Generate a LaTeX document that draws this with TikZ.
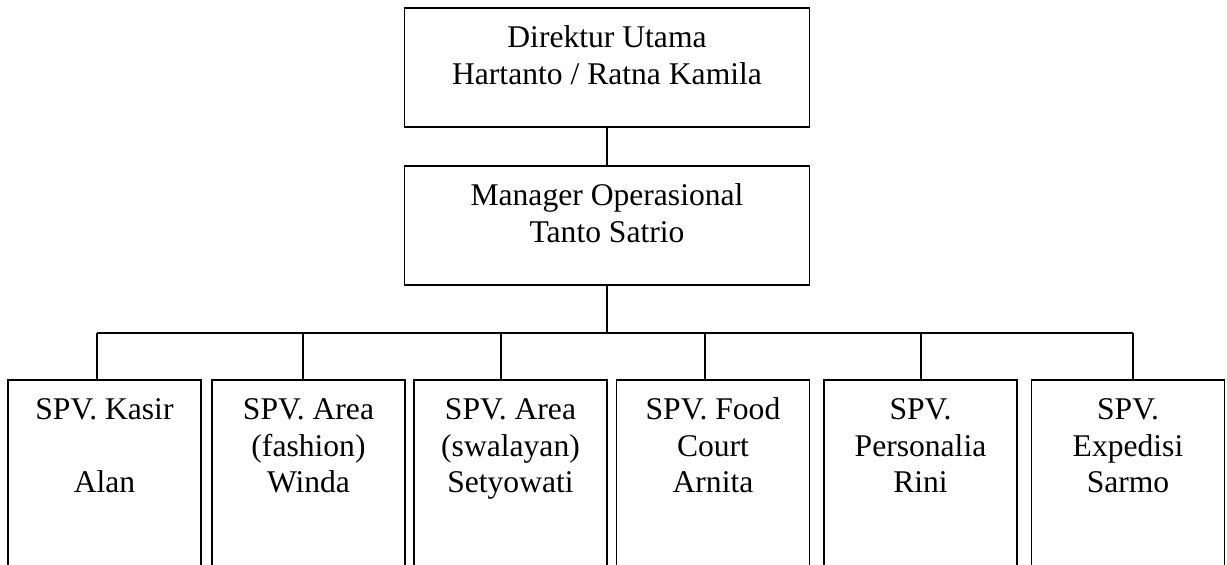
\documentclass[tikz,border=0pt]{standalone}
\usepackage{fontspec}
\setmainfont{Liberation Serif}

\begin{document}
\begin{tikzpicture}[
    x=0.5pt, y=-0.5pt,
    box/.style={draw, line width=0.9pt, align=center, anchor=north,
                inner sep=0pt,
                font=\fontsize{15.8pt}{18.2pt}\selectfont},
    headbox/.style={box, minimum width=202.5pt,
                    text height=38.2pt, text depth=21.5pt},
    spvbox/.style={box, minimum width=96.5pt,
                   text height=56.4pt, text depth=60pt},
    line/.style={line width=0.75pt}
  ]
    \useasboundingbox (0,0) rectangle (1227,564);
    \clip (0,0) rectangle (1227,564);

    \node[headbox] (dirut) at (607,7)   {Direktur Utama\\Hartanto / Ratna Kamila};
    \node[headbox] (manop) at (607,165) {Manager Operasional\\Tanto Satrio};

    \node[spvbox] (kasir)      at (104.5,379) {SPV. Kasir\\~\\Alan};
    \node[spvbox] (fashion)    at (308.5,379) {SPV. Area\\(fashion)\\Winda};
    \node[spvbox] (swalayan)   at (510.5,379) {SPV. Area\\(swalayan)\\Setyowati};
    \node[spvbox] (food)       at (713,379)   {SPV. Food\\Court\\Arnita};
    \node[spvbox] (personalia) at (920.5,379) {SPV.\\Personalia\\Rini};
    \node[spvbox] (expedisi)   at (1128,379)  {SPV.\\Expedisi\\Sarmo};

    \coordinate (bus) at (607,333);
    \draw[line] (dirut) -- (manop);
    \draw[line] (manop.south) -- (bus);

    \foreach \name/\x in {kasir/97, fashion/303, swalayan/501,
                          food/705, personalia/921, expedisi/1133}{
      \coordinate (b-\name) at (\x,333);
      \draw[line] (b-\name) -- (b-\name |- \name.north);
    }
    \draw[line] (b-kasir) -- (b-expedisi);
  \end{tikzpicture}
\end{document}
